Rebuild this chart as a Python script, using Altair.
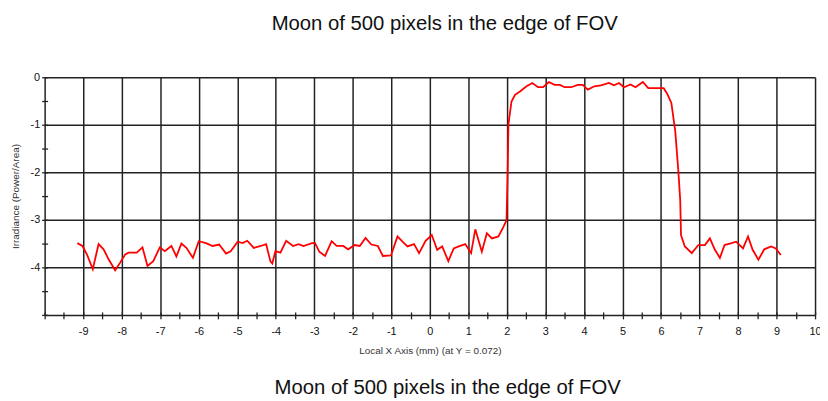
import altair as alt
import pandas as pd

title_text = "Moon of 500 pixels in the edge of FOV"
x_title = "Local X Axis (mm) (at Y = 0.072)"
y_title = "Irradiance (Power/Area)"

x_mm = [
    -9.15, -9.02, -8.90, -8.75, -8.60, -8.47, -8.34, -8.17, -8.04, -7.91,
    -7.82, -7.61, -7.46, -7.33, -7.18, -7.01, -6.88, -6.71, -6.58, -6.45,
    -6.32, -6.15, -6.00, -5.81, -5.64, -5.47, -5.29, -5.17, -4.99, -4.86,
    -4.74, -4.57, -4.39, -4.25, -4.14, -4.09, -4.01, -3.88, -3.73, -3.55,
    -3.41, -3.28, -3.06, -2.98, -2.87, -2.72, -2.55, -2.42, -2.25, -2.12,
    -1.95, -1.82, -1.67, -1.52, -1.35, -1.22, -1.01, -0.84, -0.71, -0.58,
    -0.41, -0.28, -0.11, 0.05, 0.19, 0.32, 0.48, 0.62, 0.75, 0.92,
    1.07, 1.18, 1.35, 1.48, 1.61, 1.78, 1.91, 1.99, 2.02, 2.04,
    2.12, 2.21, 2.34, 2.51, 2.66, 2.81, 2.94, 3.09, 3.24, 3.38,
    3.50, 3.67, 3.84, 3.97, 4.10, 4.27, 4.44, 4.65, 4.78, 4.91,
    5.04, 5.21, 5.34, 5.53, 5.67, 5.81, 6.07, 6.15, 6.27, 6.37,
    6.45, 6.50, 6.52, 6.62, 6.80, 6.97, 7.14, 7.27, 7.40, 7.53,
    7.65, 7.83, 7.95, 8.13, 8.26, 8.38, 8.53, 8.68, 8.86, 8.98,
    9.11,
]
irradiance = [
    -3.49, -3.55, -3.73, -4.04, -3.51, -3.62, -3.83, -4.06, -3.90, -3.73,
    -3.69, -3.69, -3.58, -3.97, -3.87, -3.58, -3.66, -3.55, -3.77, -3.50,
    -3.59, -3.80, -3.45, -3.49, -3.55, -3.52, -3.71, -3.66, -3.46, -3.49,
    -3.44, -3.59, -3.55, -3.51, -3.87, -3.92, -3.66, -3.69, -3.44, -3.55,
    -3.51, -3.55, -3.49, -3.49, -3.67, -3.76, -3.45, -3.55, -3.55, -3.62,
    -3.53, -3.55, -3.38, -3.52, -3.55, -3.76, -3.75, -3.35, -3.46, -3.56,
    -3.51, -3.70, -3.44, -3.32, -3.63, -3.56, -3.87, -3.60, -3.56, -3.51,
    -3.70, -3.20, -3.67, -3.28, -3.39, -3.35, -3.15, -3.01, -2.00, -0.99,
    -0.51, -0.37, -0.30, -0.19, -0.12, -0.21, -0.21, -0.10, -0.16, -0.16,
    -0.21, -0.21, -0.16, -0.16, -0.26, -0.19, -0.17, -0.12, -0.17, -0.12,
    -0.21, -0.15, -0.21, -0.10, -0.23, -0.23, -0.23, -0.33, -0.54, -1.13,
    -1.96, -2.59, -3.32, -3.56, -3.70, -3.53, -3.53, -3.39, -3.63, -3.80,
    -3.53, -3.49, -3.46, -3.60, -3.35, -3.63, -3.84, -3.62, -3.56, -3.60,
    -3.74,
]

x_ticks = [v / 2 for v in range(-20, 21)]
y_ticks = [v / 2 for v in range(-10, 1)]

df = pd.DataFrame({"x": x_mm, "y": irradiance})

grid_cond = {"condition": {"test": "datum.value % 1 !== 0", "value": 0}, "value": 1}
FONT = "Liberation Sans"

line = alt.Chart(df).mark_line(color="#ff0000", strokeWidth=1.8).encode(
    x=alt.X(
        "x:Q",
        scale=alt.Scale(domain=[-10, 10], nice=False, zero=False),
        axis=alt.Axis(
            values=x_ticks,
            title=x_title,
            labelExpr="(datum.value % 1 === 0 && datum.value > -10) ? toString(datum.value) : ''",
            labelOverlap=False,
            labelFlush=False,
            gridOpacity=grid_cond,
            domain=False,
            offset=-3,
            tickSize=7,
            labelPadding=7,
            titlePadding=9,
        ),
    ),
    y=alt.Y(
        "y:Q",
        scale=alt.Scale(domain=[-5, 0], nice=False, zero=False),
        axis=alt.Axis(
            values=y_ticks,
            title=y_title,
            labelExpr="(datum.value % 1 === 0 && datum.value > -5) ? toString(datum.value) : ''",
            labelOverlap=False,
            labelFlush=False,
            gridOpacity=grid_cond,
            domain=False,
            offset=-3,
            tickSize=6,
            labelPadding=2,
            titlePadding=10,
        ),
    ),
)

titles = pd.DataFrame({"t": [title_text]})
top_title = alt.Chart(titles).mark_text(
    font=FONT, fontSize=20.5, color="#111111", align="center", baseline="middle"
).encode(text="t:N", x=alt.value(404), y=alt.value(-54))
bottom_title = alt.Chart(titles).mark_text(
    font=FONT, fontSize=20.5, color="#111111", align="center", baseline="middle"
).encode(text="t:N", x=alt.value(407), y=alt.value(314))

chart = (
    alt.layer(line, top_title, bottom_title)
    .properties(
        width=778,
        height=240,
        autosize=alt.AutoSizeParams(type="none"),
        padding={"left": 37, "top": 68, "right": 5, "bottom": 83},
        background="white",
    )
    .configure_view(stroke=None)
    .configure_axis(
        gridColor="#222222",
        gridWidth=1.5,
        tickColor="#222222",
        tickWidth=1.3,
        labelFont=FONT,
        labelFontSize=11,
        labelColor="#111111",
        titleFont=FONT,
        titleFontSize=10,
        titleFontWeight="normal",
        titleColor="#333333",
    )
)

chart.save("out.html", embed_options={"renderer": "svg", "actions": False})
